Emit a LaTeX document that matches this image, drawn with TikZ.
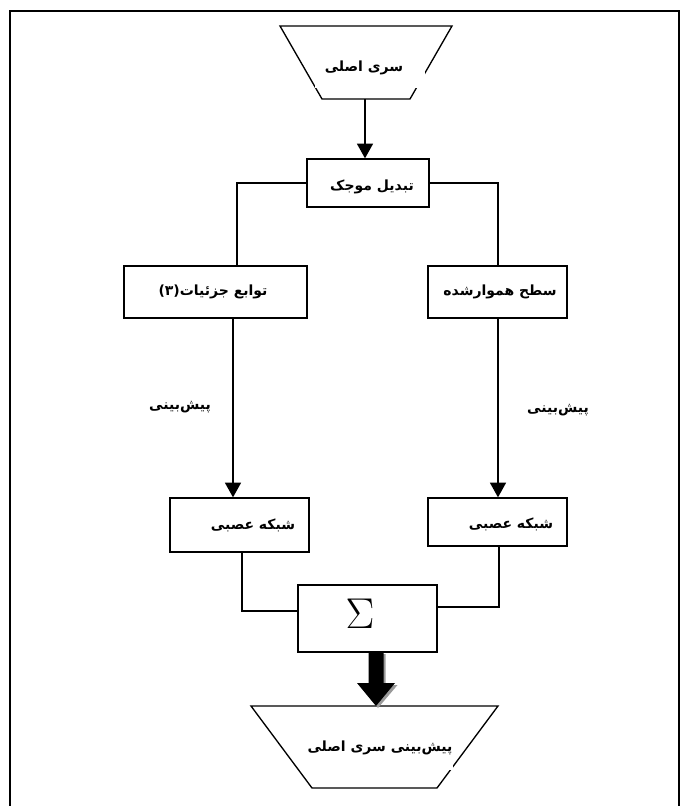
\documentclass[tikz,border=0pt]{standalone}
\usepackage{fontspec}
\usetikzlibrary{arrows.meta,calc}
\newfontfamily\fa[Script=Arabic]{DejaVu Sans}
\TeXXeTstate=1
\begin{document}
\begin{tikzpicture}[x=0.75pt,y=-0.75pt,
  box/.style={draw,line width=1pt,rectangle,inner sep=0pt},
  ln/.style={line width=1pt},
  arr/.style={line width=1pt,-{Triangle[length=11pt,width=12pt]}},
  fatxt/.style={font=\fa\fontsize{10.5}{12}\selectfont\bfseries,inner sep=0pt},
  frame/.style={line width=1.6pt}]
\useasboundingbox (0,0) rectangle (681,806);
% outer frame (open at the bottom)
\draw[frame] (10,806) -- (10,11) -- (679,11) -- (679,806);
% top trapezoid
\coordinate (srcb) at (365,99);
\draw[ln] (280,26) -- (452,26) -- (410,99) -- (322,99) -- cycle;
\fill[white] (315,58) rectangle (425,88);
\node[fatxt] (src) at (364,68) {\beginR سری اصلی\endR};
% boxes
\node[box,minimum width=122*0.75pt,minimum height=48*0.75pt] (wt) at (368,183) {};
\node[fatxt] (wtt) at (372,187) {\beginR تبدیل موجک\endR};
\node[box,minimum width=183*0.75pt,minimum height=52*0.75pt] (det) at (215.5,292) {};
\node[fatxt] (dett) at (213,292) {\beginR توابع جزئیات(۳)\endR};
\node[box,minimum width=139*0.75pt,minimum height=52*0.75pt] (smo) at (497.5,292) {};
\node[fatxt] (smot) at (500,292) {\beginR سطح هموارشده\endR};
\node[box,minimum width=139*0.75pt,minimum height=54*0.75pt] (nn1) at (239.5,525) {};
\node[fatxt] (nn1t) at (253,525) {\beginR شبکه عصبی\endR};
\node[box,minimum width=139*0.75pt,minimum height=48*0.75pt] (nn2) at (497.5,522) {};
\node[fatxt] (nn2t) at (511,524) {\beginR شبکه عصبی\endR};
\node[box,minimum width=139*0.75pt,minimum height=67*0.75pt] (sum) at (367.5,618.5) {};
\node[inner sep=0pt] (sig) at (360,614) {\scalebox{1.3}{\fontsize{24.88}{26}\selectfont$\Sigma$}};
% labels
\node[fatxt] (p1) at (180,407) {\beginR پیش‌بینی\endR};
\node[fatxt] (p2) at (558,410) {\beginR پیش‌بینی\endR};
% connectors
\draw[arr] (srcb) -- (srcb |- wt.north);
\coordinate (xl) at (237,0);
\coordinate (xr) at (498,0);
\draw[ln] (wt.west) -| (xl |- det.north);
\draw[ln] (wt.east) -| (xr |- smo.north);
\coordinate (xl2) at (233,0);
\draw[arr] (xl2 |- det.south) -- (xl2 |- nn1.north);
\draw[arr] (xr |- smo.south) -- (xr |- nn2.north);
\coordinate (xl3) at (242,611);
\coordinate (xr3) at (499,607);
\draw[ln] (xl3 |- nn1.south) -- (xl3) -- (xl3 -| sum.west);
\draw[ln] (xr3 |- nn2.south) -- (xr3) -- (xr3 -| sum.east);
% bottom trapezoid
\coordinate (outt) at (376,706);
\draw[ln] (251,706) -- (498,706) -- (437,788) -- (312,788) -- cycle;
\fill[white] (300,730) rectangle (453,770);
\node[fatxt] (outtxt) at (380,748) {\beginR پیش‌بینی سری اصلی\endR};
% thick arrow (with grey shadow)
\fill[gray!80] ($(outt)+(-5.5,-52)$) -- ++(15,0) -- ++(0,31) -- ++(12,0) -- ($(outt)+(2,2)$) -- ++(-19,-23) -- ++(12,0) -- cycle;
\fill[black] ($(outt)+(-7.5,-54)$) -- ++(15,0) -- ++(0,31) -- ++(11.5,0) -- (outt) -- ++(-19,-23) -- ++(11.5,0) -- cycle;
\end{tikzpicture}
\end{document}
